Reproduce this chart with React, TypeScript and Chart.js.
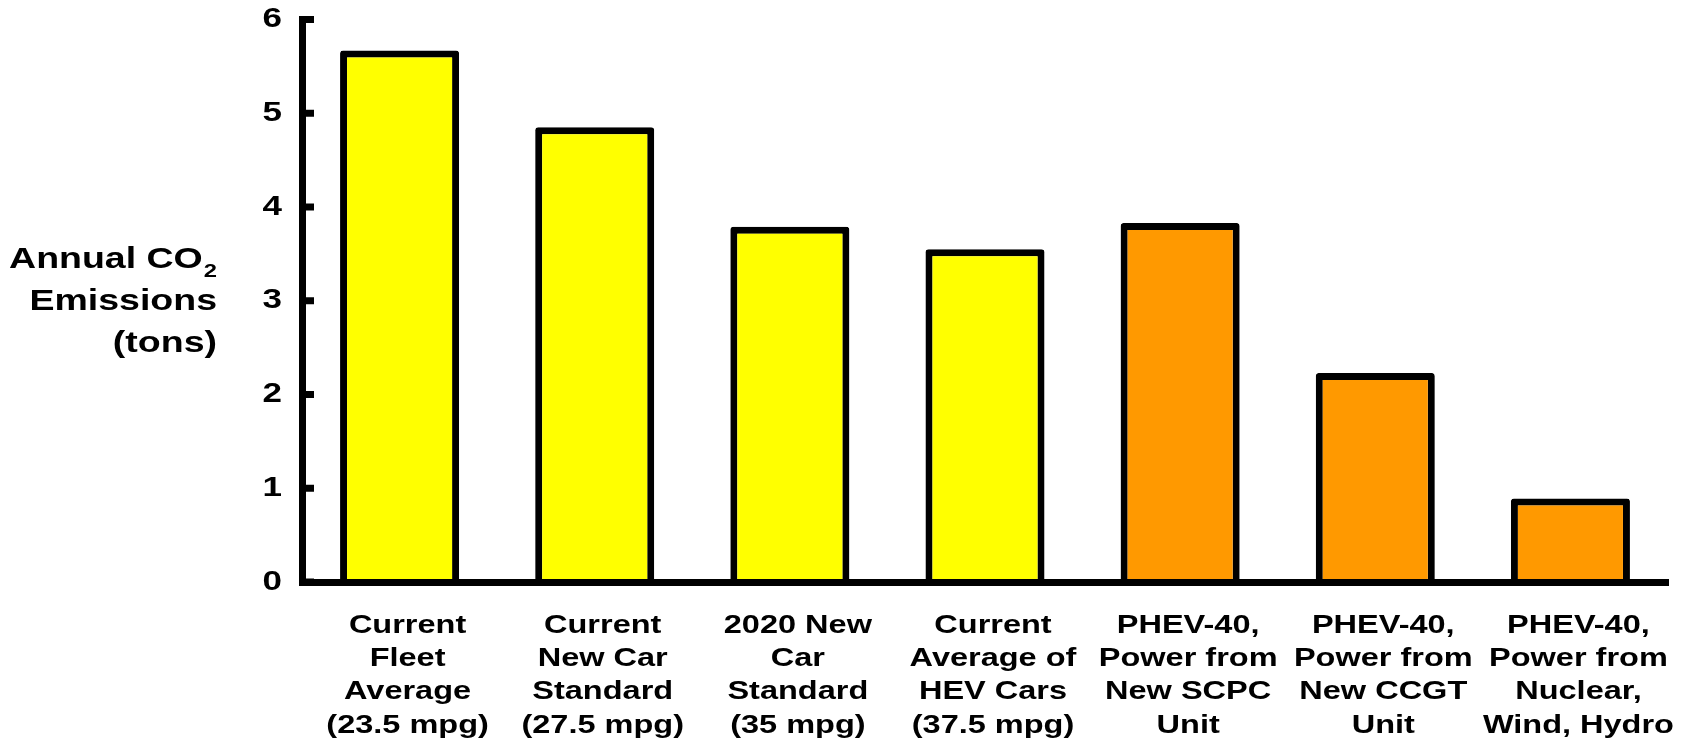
import React, { useEffect, useRef } from 'react';
import { Chart, registerables } from 'chart.js';

Chart.register(...registerables);

// ---- data ----
const categories: string[][] = [
  ['Current', 'Fleet', 'Average', '(23.5 mpg)'],
  ['Current', 'New Car', 'Standard', '(27.5 mpg)'],
  ['2020 New', 'Car', 'Standard', '(35 mpg)'],
  ['Current', 'Average of', 'HEV Cars', '(37.5 mpg)'],
  ['PHEV-40,', 'Power from', 'New SCPC', 'Unit'],
  ['PHEV-40,', 'Power from', 'New CCGT', 'Unit'],
  ['PHEV-40,', 'Power from', 'Nuclear,', 'Wind, Hydro'],
];
const emissions: number[] = [5.67, 4.85, 3.79, 3.55, 3.83, 2.23, 0.89];
const barColors: string[] = ['#FFFF00', '#FFFF00', '#FFFF00', '#FFFF00', '#FF9900', '#FF9900', '#FF9900'];
const yTicks: number[] = [0, 1, 2, 3, 4, 5, 6];
const yTitleLines: string[] = ['Annual CO', 'Emissions', '(tons)'];
const yTitleSub = '2';

const FONT = '"Liberation Sans", Arial, Helvetica, sans-serif';
const SX = 1.25; // horizontal text stretch seen in the reference

function stretchText(ctx: any) {
  if (ctx.__stretched) return;
  const orig = ctx.fillText;
  ctx.fillText = function (text: string, x: number, y: number, maxWidth?: number) {
    this.save();
    this.translate(x, y);
    this.scale(SX, 1);
    if (maxWidth !== undefined && maxWidth !== null) orig.call(this, text, 0, 0, maxWidth / SX);
    else orig.call(this, text, 0, 0);
    this.restore();
  };
  ctx.__stretched = true;
}

const tickMarks = {
  id: 'tickMarks',
  afterDatasetsDraw(chart: any) {
    const { ctx, chartArea } = chart;
    const y = chart.scales.y;
    ctx.save();
    ctx.strokeStyle = '#000';
    ctx.lineWidth = 7;
    ctx.lineCap = 'butt';
    y.ticks.forEach((_t: any, i: number) => {
      const py = y.getPixelForTick(i);
      ctx.beginPath();
      ctx.moveTo(chartArea.left, py);
      ctx.lineTo(chartArea.left + 12, py);
      ctx.stroke();
    });
    ctx.restore();
  },
};

const yTitle = {
  id: 'yTitle',
  afterDraw(chart: any) {
    const { ctx, chartArea } = chart;
    const right = chartArea.left - 85;
    const mid = (chartArea.top + chartArea.bottom) / 2;
    ctx.save();
    ctx.fillStyle = '#000';
    ctx.textAlign = 'right';
    ctx.textBaseline = 'alphabetic';
    ctx.font = `bold 19px ${FONT}`;
    const subW = ctx.measureText(yTitleSub).width * SX;
    ctx.fillText(yTitleSub, right, mid - 33 + 9);
    ctx.font = `bold 30px ${FONT}`;
    ctx.fillText(yTitleLines[0], right - subW - 1, mid - 33);
    ctx.fillText(yTitleLines[1], right, mid + 9);
    ctx.fillText(yTitleLines[2], right, mid + 51);
    ctx.restore();
  },
};

export default function App() {
  const ref = useRef<HTMLCanvasElement | null>(null);

  useEffect(() => {
    const canvas = ref.current;
    if (!canvas) return;
    const ctx = canvas.getContext('2d') as any;
    stretchText(ctx);
    const chart = new Chart(ctx, {
      type: 'bar',
      data: {
        labels: categories,
        datasets: [
          {
            data: emissions,
            backgroundColor: barColors,
            borderColor: '#000',
            borderWidth: 7,
            borderRadius: 3,
            borderSkipped: 'start',
            barPercentage: 0.61,
            categoryPercentage: 1,
          },
        ],
      },
      options: {
        responsive: false,
        animation: false,
        devicePixelRatio: 1,
        layout: { padding: { left: 182, top: 19.5, right: 17, bottom: 0 } },
        plugins: { legend: { display: false }, tooltip: { enabled: false } },
        scales: {
          x: {
            grid: { display: false, drawTicks: false },
            border: { display: true, color: '#000', width: 7, z: 1 },
            ticks: {
              color: '#000',
              padding: 27,
              labelOffset: 8,
              maxRotation: 0,
              minRotation: 0,
              autoSkip: false,
              font: { family: FONT, size: 26, weight: 'bold', lineHeight: 33.3 / 26 },
            },
            afterFit: (scale: any) => {
              scale.height = 157;
            },
          },
          y: {
            min: 0,
            max: 6,
            grid: { display: false, drawTicks: true, tickLength: 20 },
            border: { display: true, color: '#000', width: 7 },
            afterBuildTicks: (scale: any) => {
              scale.ticks = yTicks.map((v) => ({ value: v }));
            },
            ticks: {
              color: '#000',
              padding: 0,
              font: { family: FONT, size: 28, weight: 'bold', lineHeight: 1.2 },
            },
            afterFit: (scale: any) => {
              scale.width = 120;
            },
          },
        },
      },
      plugins: [tickMarks, yTitle],
    });
    return () => chart.destroy();
  }, []);

  return (
    <div style={{ position: 'fixed', left: 0, top: 0, width: 1685, height: 739, background: '#fff' }}>
      <canvas ref={ref} width={1685} height={739} style={{ display: 'block' }} />
    </div>
  );
}
